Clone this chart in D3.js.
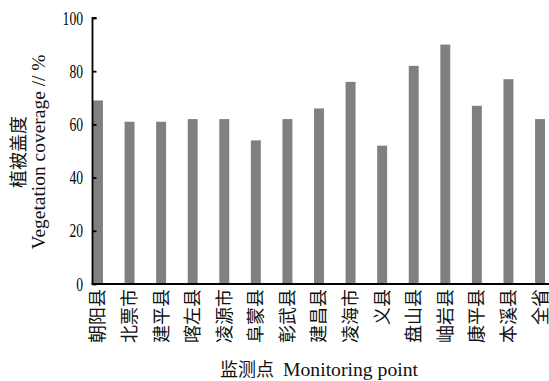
<!DOCTYPE html>
<html><head><meta charset="utf-8">
<script src="https://cdn.jsdelivr.net/npm/d3@7"></script>
<style>body{margin:0;background:#fff}</style>
</head><body>
<svg id="c" width="549" height="381"></svg>
<script>
const categories = ["朝阳县","北票市","建平县","喀左县","凌源市","阜蒙县","彰武县","建昌县","凌海市","义县","盘山县","岫岩县","康平县","本溪县","全省"];
const values = [69,61,61,62,62,54,62,66,76,52,82,90,67,77,62];
const yTicks = [0,20,40,60,80,100];
const yTitleCN = "植被盖度";
const yTitleEN = "Vegetation coverage // %";
const xTitleCN = "监测点";
const xTitleEN = "Monitoring point";

const svg = d3.select("#c");
const L = 93, R = 545, T = 18, B = 284;
const x = d3.scaleBand().domain(categories).range([L, R]).paddingInner(0.685).paddingOuter(0);
const y = d3.scaleLinear().domain([0,100]).range([B, T]);

svg.append("g").selectAll("rect").data(values).join("rect")
  .attr("x",(d,i)=>x(categories[i]))
  .attr("width",x.bandwidth())
  .attr("y",d=>y(d))
  .attr("height",d=>B-y(d))
  .attr("fill","#808080");

// y axis
const ya = svg.append("g").attr("transform",`translate(${L-0.5},0)`)
  .call(d3.axisRight(y).tickValues(yTicks).tickSize(4).tickFormat(""));
ya.select(".domain").attr("stroke","#000").attr("stroke-width",1.8).attr("d",`M4,${T}H0V${B}`);
ya.selectAll(".tick line").attr("stroke","#000").attr("stroke-width",1.8);
svg.append("g").selectAll("text").data(yTicks).join("text")
  .attr("x",83).attr("y",d=>y(d)).attr("dy","0.35em")
  .attr("text-anchor","end")
  .attr("font-family","Liberation Serif").attr("font-size",19)
  .attr("textLength",d=>String(d).length*6.8).attr("lengthAdjust","spacingAndGlyphs")
  .text(d=>d);

// x axis
const xa = svg.append("g").attr("transform",`translate(0,${B})`)
  .call(d3.axisBottom(x).tickSize(0).tickFormat(""));
xa.select(".domain").attr("stroke","#000").attr("stroke-width",2).attr("d",`M${L-1.5},0H549`);
svg.append("g").selectAll("text").data(categories).join("text")
  .attr("transform",d=>`translate(${x(d)+x.bandwidth()/2},289) rotate(-90)`)
  .attr("dy","0.36em")
  .attr("text-anchor","end")
  .attr("font-family","Noto Sans CJK SC").attr("font-size",18)
  .attr("fill","#111")
  .text(d=>d);

// y title
const yt = svg.append("g").attr("transform","translate(19,152) rotate(-90)");
yt.append("text").attr("text-anchor","middle").attr("dy","0.35em")
  .attr("font-family","Noto Sans CJK SC").attr("font-size",18).attr("fill","#111").text(yTitleCN);
yt.append("text").attr("y",19).attr("text-anchor","middle").attr("dy","0.35em")
  .attr("font-family","Liberation Serif").attr("font-size",19)
  .attr("textLength",195).attr("lengthAdjust","spacingAndGlyphs").attr("fill","#111").text(yTitleEN);

// x title
const xt = svg.append("text").attr("y",376).attr("font-family","Noto Sans CJK SC").attr("font-size",18).attr("fill","#111");
xt.append("tspan").attr("x",220).text(xTitleCN);
xt.append("tspan").attr("x",283).attr("font-family","Liberation Serif").attr("font-size",19)
  .attr("textLength",135).attr("lengthAdjust","spacingAndGlyphs").text(xTitleEN);
</script>
</body></html>
